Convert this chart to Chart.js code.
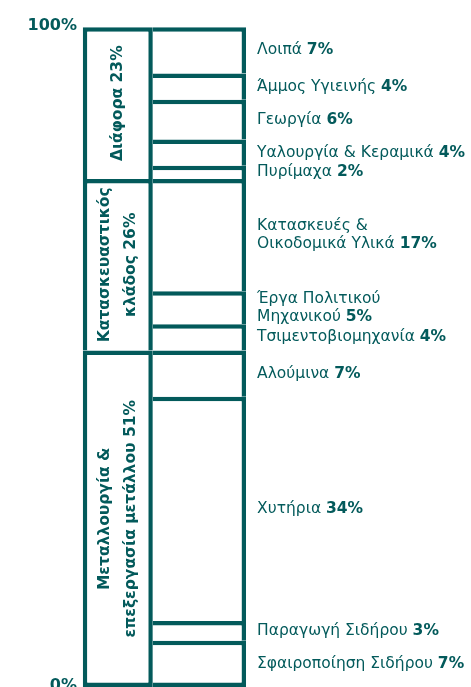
<!DOCTYPE html>
<html>
<head>
<meta charset="utf-8">
<script src="https://cdn.jsdelivr.net/npm/chart.js@4.4.3/dist/chart.umd.min.js"></script>
<style>
  html, body { margin: 0; padding: 0; background: #fff; }
  #wrap { position: relative; width: 471px; height: 687px; }
</style>
</head>
<body>
<div id="wrap"><canvas id="chart" width="471" height="687"></canvas></div>
<script>
// main sectors, bottom to top
const groupLabels = [['Μεταλλουργία &', 'επεξεργασία μετάλλου'], ['Κατασκευαστικός', 'κλάδος'], ['Διάφορα']];
const groupValues = [51, 26, 23];

// sub sectors, bottom to top
const subLabels = [
    ['Σφαιροποίηση Σιδήρου'],
    ['Παραγωγή Σιδήρου'],
    ['Χυτήρια'],
    ['Αλούμινα'],
    ['Τσιμεντοβιομηχανία'],
    ['Έργα Πολιτικού', 'Μηχανικού'],
    ['Κατασκευές &', 'Οικοδομικά Υλικά'],
    ['Πυρίμαχα'],
    ['Υαλουργία & Κεραμικά'],
    ['Γεωργία'],
    ['Άμμος Υγιεινής'],
    ['Λοιπά']
];
const subValues = [7, 3, 34, 7, 4, 5, 17, 2, 4, 6, 4, 7];

const columns = ['Κλάδος', 'Εφαρμογή'];
const yTicks = [0, 100];

const TEAL = '#035a5b';
const LINE = 4.5;
const FONT = '"DejaVu Sans", sans-serif';

const baseStyle = {
    backgroundColor: '#fff',
    borderColor: TEAL,
    borderSkipped: false,
    inflateAmount: 0,
    stack: 'all',
    clip: false
};

const datasets = [];
groupValues.forEach((v, i) => {
    datasets.push(Object.assign({}, baseStyle, {
        label: groupLabels[i].join(' '),
        data: [v, null],
        kind: 'group',
        lines: groupLabels[i],
        barThickness: 70,
        borderWidth: { top: LINE, left: LINE, right: LINE, bottom: i === 0 ? LINE : 0 }
    }));
});
subValues.forEach((v, i) => {
    datasets.push(Object.assign({}, baseStyle, {
        label: subLabels[i].join(' '),
        data: [null, v],
        kind: 'sub',
        lines: subLabels[i],
        barThickness: 93.3,
        borderWidth: { top: LINE, left: 0, right: LINE, bottom: i === 0 ? LINE : 0 }
    }));
});

// text next to / inside the bars
const labelPlugin = {
    id: 'sectorLabels',
    afterDatasetsDraw(chart) {
        const ctx = chart.ctx;
        ctx.save();
        ctx.fillStyle = TEAL;
        ctx.textBaseline = 'middle';
        chart.data.datasets.forEach((ds, i) => {
            const idx = ds.kind === 'group' ? 0 : 1;
            const bar = chart.getDatasetMeta(i).data[idx];
            if (!bar) return;
            const { x, y, base, width } = bar.getProps(['x', 'y', 'base', 'width'], true);
            const cy = (y + base) / 2;
            const value = ds.data[idx] + '%';

            if (ds.kind === 'group') {
                const lines = ds.lines.slice();
                lines[lines.length - 1] += ' ' + value;
                ctx.save();
                ctx.translate(x, cy);
                ctx.rotate(-Math.PI / 2);
                ctx.font = 'bold 15.5px ' + FONT;
                ctx.textAlign = 'center';
                lines.forEach((l, k) => ctx.fillText(l, 0, (k - (lines.length - 1) / 2) * 26));
                ctx.restore();
            } else {
                const tx = x + width / 2 + 11;
                const lh = 18;
                ctx.textAlign = 'left';
                ds.lines.forEach((l, k) => {
                    const ty = cy + (k - (ds.lines.length - 1) / 2) * lh;
                    ctx.font = '15.5px ' + FONT;
                    ctx.fillText(l, tx, ty);
                    if (k === ds.lines.length - 1) {
                        const w = ctx.measureText(l + ' ').width;
                        ctx.font = 'bold 15.5px ' + FONT;
                        ctx.fillText(value, tx + w, ty);
                    }
                });
            }
        });
        ctx.restore();
    }
};

new Chart(document.getElementById('chart'), {
    type: 'bar',
    data: { labels: columns, datasets: datasets },
    options: {
        responsive: false,
        animation: false,
        devicePixelRatio: 1,
        layout: { padding: { top: 27.3, right: 230.8, bottom: 0, left: 0 } },
        plugins: {
            legend: { display: false },
            tooltip: { enabled: false }
        },
        scales: {
            x: {
                display: false,
                stacked: true,
                offset: true
            },
            y: {
                stacked: true,
                min: 0,
                max: 100,
                grid: { display: false, drawTicks: false, tickLength: 0 },
                border: { display: false },
                afterBuildTicks: scale => { scale.ticks = yTicks.map(v => ({ value: v })); },
                afterFit: scale => {
                    scale.width = 77;
                    scale.paddingTop = 0;
                    scale.paddingBottom = 0;
                },
                ticks: {
                    padding: 0,
                    labelOffset: -1.5,
                    color: TEAL,
                    font: { family: FONT, size: 16, weight: 'bold' },
                    callback: v => v + '%'
                }
            }
        }
    },
    plugins: [labelPlugin]
});
</script>
</body>
</html>
